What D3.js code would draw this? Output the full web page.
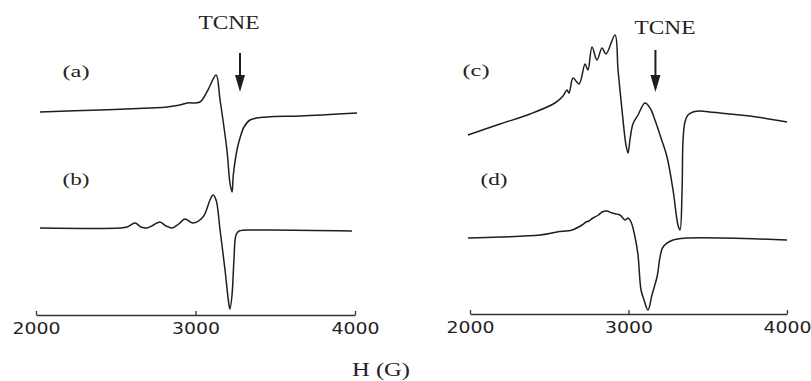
<!DOCTYPE html>
<meta charset="utf-8">
<style>
body { margin: 0; background: #fff; }
.trace { fill: none; stroke: #1e1e1e; stroke-width: 1.5px; stroke-linejoin: round; }
.axis path { stroke: #333; stroke-width: 1.3px; }
.axis line { stroke: #333; stroke-width: 1.3px; }
.axis text { font-family: "DejaVu Sans", sans-serif; font-size: 16px; fill: #222; }
.lbl { font-family: "Liberation Serif", serif; fill: #222; }
</style>
<body>
<script src="https://d3js.org/d3.v7.min.js"></script>
<script>

// field values (G) and relative intensity (a.u.)
var ticks = [2000, 3000, 4000];
var traceA = [[2025,1],[2401,3],[2715,5],[2821,6],[2903,8],[2947,10],[3028,11],[3078,23],[3129,38],
  [3154,13],[3197,-37],[3216,-70],[3229,-79],[3237,-62],[3260,-37],[3279,-25],[3304,-14],
  [3342,-7],[3448,-4],[3655,-3],[4013,0]];
var traceB = [[2025,0],[2527,0],[2571,1],[2621,5],[2658,1],[2696,0],[2737,3],[2777,6],[2815,2],[2853,0],
  [2895,4],[2934,9],[2984,5],[3047,11],[3091,28],[3110,33],[3129,28],[3154,-2],[3185,-42],[3210,-77],
  [3216,-81],[3229,-67],[3241,-32],[3254,-7],[3273,-3],[3404,-2],[3981,-3]];
var traceC = [[1987,-15],[2189,-4],[2379,6],[2536,17],[2587,24],[2612,30],[2625,27],[2650,42],[2688,36],
  [2726,56],[2744,50],[2770,73],[2801,60],[2833,72],[2858,66],[2915,85],[2934,50],[2959,10],[2984,-25],
  [2997,-33],[3009,-20],[3028,-4],[3060,5],[3104,17],[3136,12],[3167,0],[3205,-18],[3243,-37],[3281,-70],
  [3312,-105],[3325,-110],[3338,-70],[3344,-20],[3356,-2],[3375,5],[3407,8],[3451,9],[3514,8],[3767,4],[4000,-2]];
var traceD = [[1987,0],[2189,1],[2442,3],[2549,6],[2644,8],[2707,13],[2732,16],[2750,17],[2776,20],
  [2810,23],[2833,26],[2864,27],[2896,25],[2946,23],[2978,18],[2997,20],[3016,16],[3041,1],[3060,-17],
  [3079,-52],[3098,-62],[3123,-72],[3148,-57],[3180,-39],[3218,-9],[3281,-2],[3369,0],[4000,-2]];
var labels = ["(a)", "(b)", "(c)", "(d)"];

var width = 811, height = 381;
var svg = d3.select("body").append("svg")
    .attr("width", width)
    .attr("height", height);

// two panels, each with its own field axis
var panels = [
  {x0: 36, x1: 355, axisY: 315, traces: [traceA, traceB], base: [113, 228],
   lbl: [[76, 77], [76, 185]], arrowX: 3279, tcne: [229, 29]},
  {x0: 470, x1: 787, axisY: 314, traces: [traceC, traceD], base: [120, 238],
   lbl: [[476, 76], [494, 185]], arrowX: 3170, tcne: [665, 34]}
];

var line = d3.line().curve(d3.curveCatmullRom.alpha(0.5));

panels.forEach(function(p, pi) {
  var x = d3.scaleLinear().domain([2000, 4000]).range([p.x0, p.x1]);

  p.traces.forEach(function(tr, ti) {
    var y = d3.scaleLinear().domain([-100, 100]).range([p.base[ti] + 100, p.base[ti] - 100]);
    svg.append("path")
        .attr("class", "trace")
        .attr("d", line.x(function(d) { return x(d[0]); }).y(function(d) { return y(d[1]); })(tr));

    svg.append("text")
        .attr("class", "lbl")
        .attr("x", p.lbl[ti][0])
        .attr("y", p.lbl[ti][1])
        .attr("text-anchor", "middle")
        .attr("font-size", "16px")
        .attr("textLength", 27)
        .attr("lengthAdjust", "spacingAndGlyphs")
        .text(labels[pi * 2 + ti]);
  });

  var ax = svg.append("g")
      .attr("class", "axis")
      .attr("transform", "translate(0," + p.axisY + ")")
      .call(d3.axisBottom(x).tickValues(ticks).tickSize(-4).tickSizeOuter(0).tickPadding(8).tickFormat(d3.format("d")));
  ax.selectAll("text")
      .attr("textLength", 48)
      .attr("lengthAdjust", "spacingAndGlyphs");

  // TCNE marker
  svg.append("text")
      .attr("class", "lbl")
      .attr("x", p.tcne[0])
      .attr("y", p.tcne[1])
      .attr("text-anchor", "middle")
      .attr("font-size", "19px")
      .attr("textLength", 61)
      .attr("lengthAdjust", "spacingAndGlyphs")
      .text("TCNE");
  var ax0 = x(p.arrowX);
  svg.append("line")
      .attr("x1", ax0).attr("x2", ax0)
      .attr("y1", pi == 0 ? 53 : 50).attr("y2", 82)
      .attr("stroke", "#1e1e1e").attr("stroke-width", 2);
  svg.append("path")
      .attr("d", "M" + (ax0 - 5) + ",75L" + (ax0 + 5) + ",75L" + ax0 + ",92Z")
      .attr("fill", "#1e1e1e");
});

svg.append("text")
    .attr("class", "lbl")
    .attr("x", 381)
    .attr("y", 376)
    .attr("text-anchor", "middle")
    .attr("font-size", "18px")
    .attr("textLength", 58)
    .attr("lengthAdjust", "spacingAndGlyphs")
    .text("H (G)");

</script>
